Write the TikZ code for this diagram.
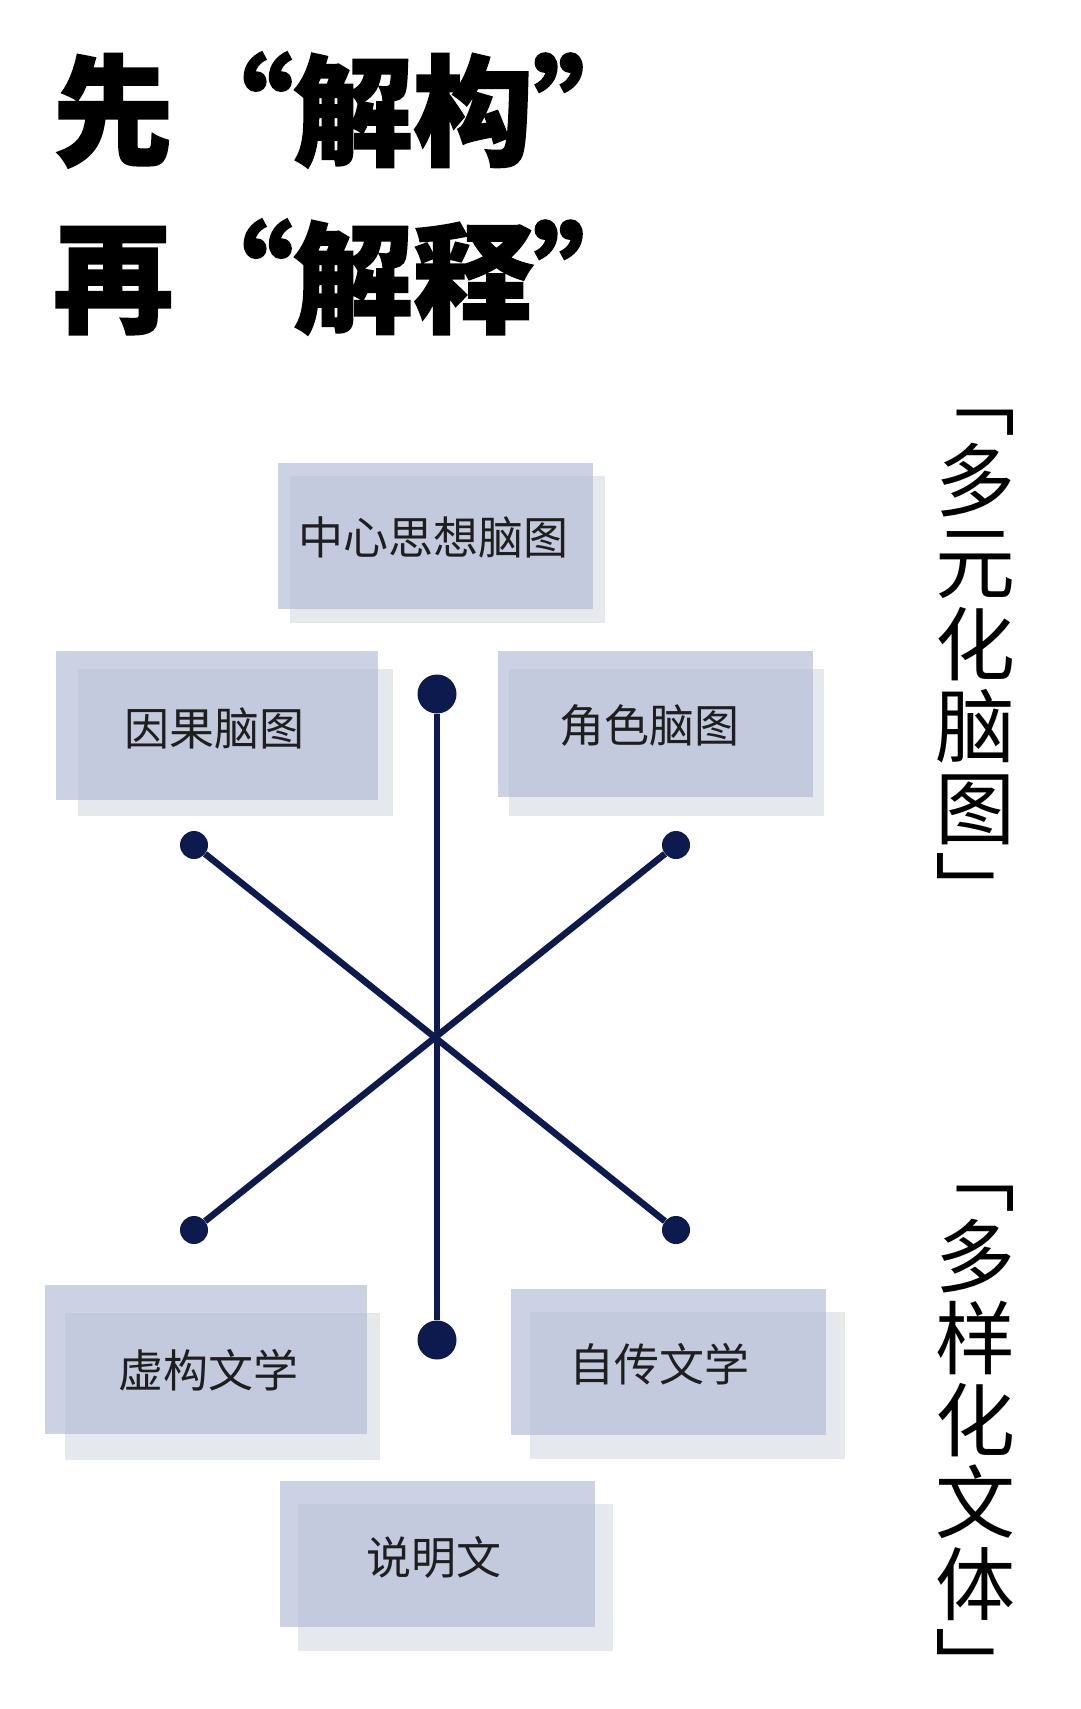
\documentclass[tikz,border=0pt]{standalone}
\usepackage{fontspec}
\newfontfamily\cjk{Noto Sans CJK SC}
\newfontfamily\cjkheavy[BoldFeatures={FakeBold=1.5}]{Noto Sans CJK SC}
\definecolor{navy}{RGB}{12,26,78}
\definecolor{frontc}{RGB}{177,187,214}
\definecolor{shadowc}{RGB}{229,232,236}
\definecolor{inkc}{RGB}{30,30,30}
\tikzset{
  shadowbox/.style={fill=shadowc, inner sep=0pt, minimum width=315pt, minimum height=147pt, anchor=north west},
  frontbox/.style={fill=frontc, fill opacity=0.65, inner sep=0pt, minimum width=315pt, minimum height=146pt, anchor=north west},
  widefront/.style={frontbox, minimum width=322pt, minimum height=149pt},
  boxlabel/.style={font=\cjk\fontsize{45pt}{50pt}\selectfont, text=inkc, inner sep=0pt},
  titletext/.style={anchor=west, inner sep=0pt, font=\cjkheavy\bfseries\fontsize{120pt}{120pt}\selectfont, text=black},
  verttext/.style={font=\cjk\fontsize{80pt}{82pt}\selectfont, align=center, inner sep=0pt, text=black},
  bigdot/.style={circle, fill=navy, inner sep=0pt, minimum size=39pt},
  smalldot/.style={circle, fill=navy, inner sep=0pt, minimum size=28pt},
  spoke/.style={draw=navy, line width=6.5pt}
}
\begin{document}
\begin{tikzpicture}[x=1pt,y=-1pt]
\fill[white] (0,0) rectangle (1080,1709);
\useasboundingbox (0,0) rectangle (1080,1709);

% title
\node[titletext] (title1) at (53,110) {先“解构”};
\node[titletext] (title2) at (53,277) {再“解释”};

% boxes
\node[shadowbox] (s1) at (290,476) {};
\node[frontbox] (b1) at (278,463) {};
\node[boxlabel] (t1) at (433,537) {中心思想脑图};

\node[shadowbox] (s2) at (78,669) {};
\node[widefront] (b2) at (56,651) {};
\node[boxlabel] (t2) at (214.5,728.5) {因果脑图};

\node[shadowbox] (s3) at (509,669) {};
\node[frontbox] (b3) at (498,651) {};
\node[boxlabel] (t3) at (649.5,726) {角色脑图};

\node[shadowbox] (s4) at (65,1313) {};
\node[widefront] (b4) at (45,1285) {};
\node[boxlabel] (t4) at (208.5,1370) {虚构文学};

\node[shadowbox] (s5) at (530,1312) {};
\node[frontbox] (b5) at (511,1289) {};
\node[boxlabel] (t5) at (659.5,1364.5) {自传文学};

\node[shadowbox] (s6) at (298,1504) {};
\node[frontbox] (b6) at (280,1481) {};
\node[boxlabel] (t6) at (434,1557) {说明文};

% spokes
\node[bigdot] (dtop) at (437,694) {};
\node[bigdot] (dbot) at (437,1340) {};
\node[smalldot] (dtl) at (194,845) {};
\node[smalldot] (dtr) at (676,845) {};
\node[smalldot] (dbl) at (194,1230) {};
\node[smalldot] (dbr) at (676,1230) {};
\draw[spoke] (dtop) -- (dbot);
\draw[spoke] (dtl) -- (dbr);
\draw[spoke] (dtr) -- (dbl);

% vertical texts
\node[verttext] (v1) at (975,665) {﹁\\多\\元\\化\\脑\\图\\﹂};
\node[verttext] (v2) at (975,1441) {﹁\\多\\样\\化\\文\\体\\﹂};
\end{tikzpicture}
\end{document}
